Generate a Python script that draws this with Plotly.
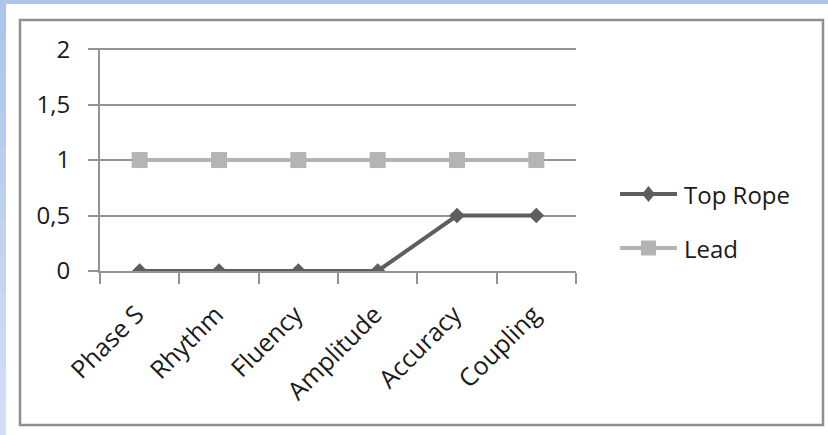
import plotly.graph_objects as go

# Categories and series values
categories = ["Phase S", "Rhythm", "Fluency", "Amplitude", "Accuracy", "Coupling"]
top_rope = [0, 0, 0, 0, 0.5, 0.5]
lead = [1, 1, 1, 1, 1, 1]
y_ticks = [0, 0.5, 1, 1.5, 2]
y_tick_labels = ["0", "0,5", "1", "1,5", "2"]
series_names = ["Top Rope", "Lead"]

W, H = 828, 435
L, R, T, B = 100, 252, 48, 164
PW, PH = W - L - R, H - T - B


def px(x):
    return (x - L) / PW


def py(y):
    return (H - B - y) / PH


FONT = "Open Sans"
TEXT = "#1a1a1a"
GRID = "#939393"
DARK = "#5e5e5e"
LIGHT = "#b4b4b4"

fig = go.Figure()
fig.add_trace(go.Scatter(
    x=categories, y=top_rope, name=series_names[0], mode="lines+markers",
    line=dict(color=DARK, width=4),
    marker=dict(symbol="diamond", size=12, color=DARK),
))
fig.add_trace(go.Scatter(
    x=categories, y=lead, name=series_names[1], mode="lines+markers",
    line=dict(color=LIGHT, width=4),
    marker=dict(symbol="square", size=16, color=LIGHT),
))

shapes = [
    # outer blue frame
    dict(type="rect", xref="paper", yref="paper", layer="below",
         x0=px(0), x1=px(W), y0=py(H), y1=py(0),
         fillcolor="#afc5e9", line=dict(width=0)),
]
# left strip fades lighter toward the bottom
steps = 12
for i in range(steps):
    t = i / (steps - 1)
    r = int(0xaf + (0xd4 - 0xaf) * t)
    g = int(0xc5 + (0xde - 0xc5) * t)
    b = int(0xe9 + (0xf2 - 0xe9) * t)
    shapes.append(dict(type="rect", xref="paper", yref="paper", layer="below",
                       x0=px(0), x1=px(6),
                       y0=py(4 + (H - 4) * (i + 1) / steps),
                       y1=py(4 + (H - 4) * i / steps),
                       fillcolor=f"rgb({r},{g},{b})", line=dict(width=0)))
shapes += [
    # white sheet
    dict(type="rect", xref="paper", yref="paper", layer="below",
         x0=px(6), x1=px(W + 2), y0=py(H + 2), y1=py(4),
         fillcolor="white", line=dict(width=0)),
    # chart border
    dict(type="rect", xref="paper", yref="paper", layer="below",
         x0=px(20), x1=px(823), y0=py(425), y1=py(20),
         fillcolor="rgba(0,0,0,0)", line=dict(color="#8f8f8f", width=2.5)),
]

# legend keys: a line sample with the series marker in its middle
annotations = []
legend_rows = [(series_names[0], DARK, "diamond", 194),
               (series_names[1], LIGHT, "square", 248)]
for name, color, sym, yc in legend_rows:
    x0, x1, xm = 620, 677, 648.5
    shapes.append(dict(type="line", xref="paper", yref="paper",
                       x0=px(x0), x1=px(x1), y0=py(yc), y1=py(yc),
                       line=dict(color=color, width=4)))
    if sym == "diamond":
        hw, hh = 6.5, 8
        path = (f"M{px(xm - hw)},{py(yc)} L{px(xm)},{py(yc - hh)} "
                f"L{px(xm + hw)},{py(yc)} L{px(xm)},{py(yc + hh)} Z")
        shapes.append(dict(type="path", xref="paper", yref="paper", path=path,
                           fillcolor=color, line=dict(width=0)))
    else:
        s = 7.5
        shapes.append(dict(type="rect", xref="paper", yref="paper",
                           x0=px(xm - s), x1=px(xm + s),
                           y0=py(yc + s), y1=py(yc - s),
                           fillcolor=color, line=dict(width=0)))
    annotations.append(dict(xref="paper", yref="paper", x=px(682), y=py(yc),
                            xanchor="left", yanchor="middle", showarrow=False,
                            text=name, font=dict(family=FONT, size=24, color=TEXT)))

fig.update_layout(
    width=W, height=H,
    margin=dict(l=L, r=R, t=T, b=B, pad=0),
    paper_bgcolor="white",
    plot_bgcolor="rgba(0,0,0,0)",
    font=dict(family=FONT, size=24, color=TEXT),
    shapes=shapes,
    annotations=annotations,
    showlegend=False,
    xaxis=dict(
        type="category", range=[-0.5, 5.5],
        tickson="boundaries", ticks="outside", ticklen=11, tickwidth=2, tickcolor=GRID,
        showline=True, linecolor=GRID, linewidth=2,
        showgrid=False, tickangle=-45, zeroline=False,
        ticklabelstandoff=17, ticklabelshift=-3,
        tickfont=dict(family=FONT, size=25, color=TEXT),
    ),
    yaxis=dict(
        range=[0, 2.01], tickvals=y_ticks, ticktext=y_tick_labels,
        ticks="outside", ticklen=10, tickwidth=2, tickcolor=GRID,
        showline=True, linecolor=GRID, linewidth=2,
        showgrid=True, gridcolor=GRID, gridwidth=2, zeroline=False,
        ticklabelstandoff=13,
        tickfont=dict(family=FONT, size=24, color=TEXT),
    ),
)

fig.write_html("out.html")
